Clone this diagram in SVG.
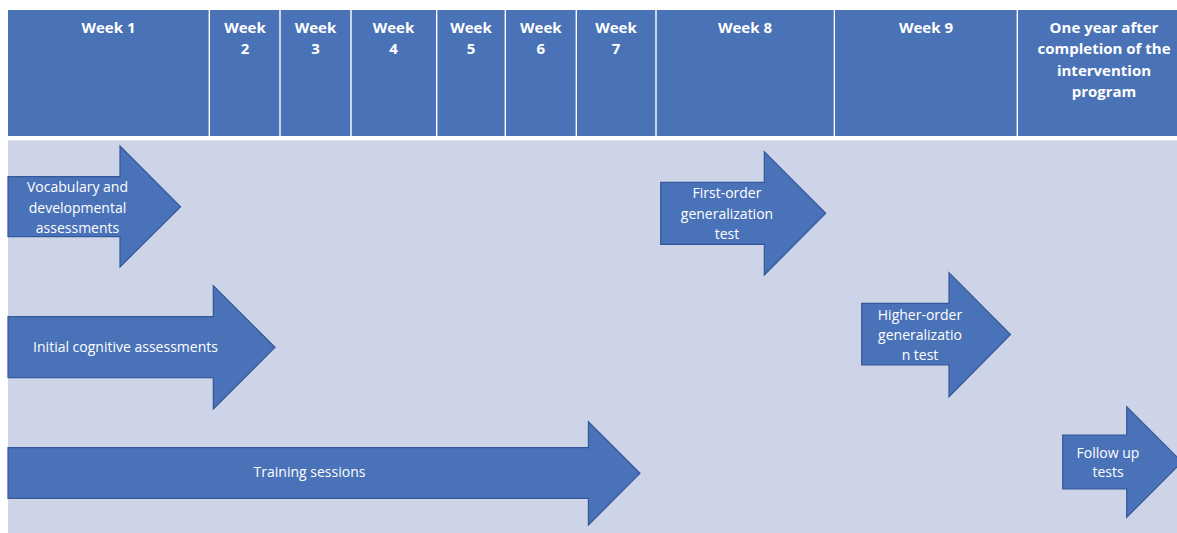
<svg xmlns="http://www.w3.org/2000/svg" width="1177" height="533" viewBox="0 0 1177 533">
<style>
.hd{fill:#4a72b6}
.ht{font-family:"Open Sans","Liberation Sans",sans-serif;font-weight:bold;font-size:15px;fill:#fff;text-anchor:middle}
.ar{fill:#4a72b8;stroke:#34579a;stroke-width:1.2;stroke-linejoin:miter}
.at{font-family:"Open Sans","Liberation Sans",sans-serif;font-size:14px;fill:#fff;text-anchor:middle}
</style>
<rect x="0" y="0" width="1177" height="533" fill="#ffffff"/>
<rect id="body" x="8" y="140" width="1169" height="393" fill="#cdd4e7"/>
<line x1="8" y1="140.5" x2="1177" y2="140.5" stroke="#dde2ef" stroke-width="1"/>
<g id="header">
  <g id="col1"><rect class="hd" x="8" y="10" width="200.6" height="126"/><text class="ht" x="108.5" y="32.5">Week 1</text></g>
  <g id="col2"><rect class="hd" x="210" y="10" width="69.3" height="126"/><text class="ht" x="245" y="32.5">Week</text><text class="ht" x="245" y="54">2</text></g>
  <g id="col3"><rect class="hd" x="280.7" y="10" width="69.6" height="126"/><text class="ht" x="315.5" y="32.5">Week</text><text class="ht" x="315.5" y="54">3</text></g>
  <g id="col4"><rect class="hd" x="351.7" y="10" width="84.3" height="126"/><text class="ht" x="393.5" y="32.5">Week</text><text class="ht" x="393.5" y="54">4</text></g>
  <g id="col5"><rect class="hd" x="437.4" y="10" width="67.2" height="126"/><text class="ht" x="471" y="32.5">Week</text><text class="ht" x="471" y="54">5</text></g>
  <g id="col6"><rect class="hd" x="506" y="10" width="69.6" height="126"/><text class="ht" x="540.8" y="32.5">Week</text><text class="ht" x="540.8" y="54">6</text></g>
  <g id="col7"><rect class="hd" x="577" y="10" width="78.3" height="126"/><text class="ht" x="616" y="32.5">Week</text><text class="ht" x="616" y="54">7</text></g>
  <g id="col8"><rect class="hd" x="656.7" y="10" width="177" height="126"/><text class="ht" x="745" y="32.5">Week 8</text></g>
  <g id="col9"><rect class="hd" x="835" y="10" width="181.6" height="126"/><text class="ht" x="926" y="32.5">Week 9</text></g>
  <g id="col10"><rect class="hd" x="1018" y="10" width="175" height="126"/><text class="ht" x="1104" y="32.5">One year after</text><text class="ht" x="1104" y="54">completion of the</text><text class="ht" x="1104" y="75.5">intervention</text><text class="ht" x="1104" y="97">program</text></g>
</g>
<g id="connectors"></g>
<g id="vocab">
  <path class="ar" d="M8,176.7 H120 V146 L180.5,206.7 L120,267 V236.7 H8 Z"/>
  <text class="at" x="77.5" y="191.5">Vocabulary and</text>
  <text class="at" x="77.5" y="212.5">developmental</text>
  <text class="at" x="77.5" y="233">assessments</text>
</g>
<g id="cognitive">
  <path class="ar" d="M8,316.7 H213.3 V285.7 L275,347.3 L213.3,409 V377.7 H8 Z"/>
  <text class="at" x="125.5" y="352">Initial cognitive assessments</text>
</g>
<g id="training">
  <path class="ar" d="M8,447.7 H588.4 V421.7 L640,473.3 L588.4,525 V498.3 H8 Z"/>
  <text class="at" x="309.5" y="477">Training sessions</text>
</g>
<g id="firstorder">
  <path class="ar" d="M660.7,182.3 H764.3 V151.7 L825.7,213.3 L764.3,275 V244.3 H660.7 Z"/>
  <text class="at" x="727" y="198">First-order</text>
  <text class="at" x="727" y="218.5">generalization</text>
  <text class="at" x="727" y="239">test</text>
</g>
<g id="higherorder">
  <path class="ar" d="M861.7,303.3 H949 V272.7 L1010.5,334.5 L949,396.7 V365 H861.7 Z"/>
  <text class="at" x="920" y="320">Higher-order</text>
  <text class="at" x="920" y="340">generalizatio</text>
  <text class="at" x="920" y="360">n test</text>
</g>
<g id="followup">
  <path class="ar" d="M1062.7,435 H1126.7 V406.7 L1182,462 L1126.7,517.3 V489 H1062.7 Z"/>
  <text class="at" x="1108" y="458">Follow up</text>
  <text class="at" x="1108" y="476.5">tests</text>
</g>
</svg>
